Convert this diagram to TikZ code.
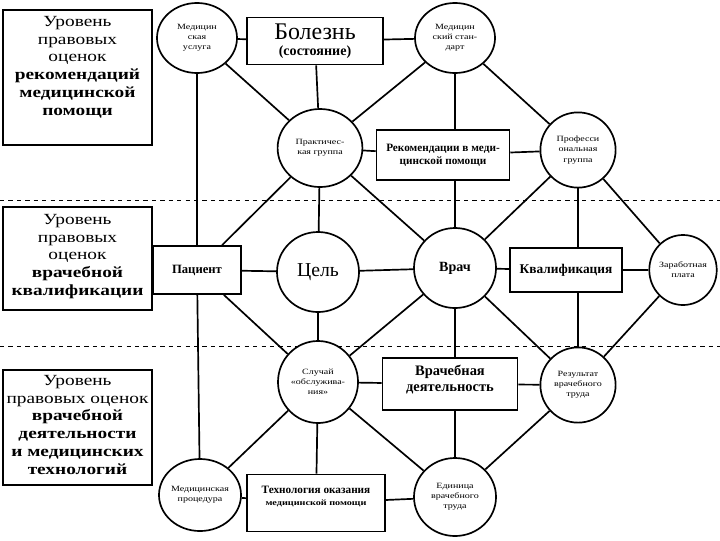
\documentclass[tikz,border=0pt]{standalone}
\usepackage{fontspec}
\setmainfont{Liberation Serif}
\newfontfamily\widefont{Liberation Serif}[FakeStretch=1.25]
\usetikzlibrary{shapes.geometric,positioning}

\begin{document}
\begin{tikzpicture}[x=0.025cm, y=-0.025cm,
  lvlframe/.style={draw, line width=1.2pt},
  lvltxt/.style={align=center, anchor=north, font=\widefont\fontsize{11}{12.6pt}\selectfont, inner sep=0pt},
  rbox/.style={draw, line width=1.2pt, fill=white, align=center, inner sep=2pt},
  oval/.style={draw, line width=1.2pt, fill=white, ellipse, align=center, inner sep=0pt,
    font=\widefont\fontsize{5.7}{7.2}\selectfont},
  link/.style={line width=1.2pt},
  sepline/.style={dashed, line width=0.5pt},
]
\useasboundingbox (0,0) rectangle (720,540);

% --- dashed level borders ---
\draw[sepline] (0,200) -- (720,200);
\draw[sepline] (0,346) -- (720,346);

% --- level boxes ---
\draw[lvlframe] (3,10) rectangle (152,145);
\node[lvltxt] (lvlA) at (77.5,16) {Уровень\\правовых\\оценок\\\textbf{рекомендаций}\\\textbf{медицинской}\\\textbf{помощи}};
\draw[lvlframe] (3,207) rectangle (152,310);
\node[lvltxt] (lvlB) at (77.5,214) {Уровень\\правовых\\оценок\\\textbf{врачебной}\\\textbf{квалификации}};
\draw[lvlframe] (3,370) rectangle (152,485);
\node[lvltxt] (lvlC) at (77.5,375) {Уровень\\правовых оценок\\\textbf{врачебной}\\\textbf{деятельности}\\\textbf{и медицинских}\\\textbf{технологий}};

% --- top row ---
\node[oval, minimum width=2cm, minimum height=1.75cm] (usl) at (197,38) {Медицин\\ская\\услуга};
\node[rbox, minimum width=3.4cm, minimum height=1.18cm] (bol) at (315,41)
  {{\fontsize{17}{15}\selectfont Болезнь}\\[-1pt]{\fontsize{10}{11}\selectfont\bfseries (состояние)}};
\node[oval, minimum width=2cm, minimum height=1.75cm] (std) at (455,38) {Медицин\\ский стан-\\дарт};

% --- second row ---
\node[oval, minimum width=2.12cm, minimum height=1.95cm] (prak) at (320,148) {Практичес-\\кая группа};
\node[rbox, minimum width=3.32cm, minimum height=1.25cm, font=\fontsize{8}{9.5}\selectfont\bfseries] (rec) at (443,155)
  {Рекомендации в меди-\\цинской помощи};
\node[oval, minimum width=1.88cm, minimum height=1.88cm] (prof) at (578,150) {Професси\\ональная\\группа};

% --- middle row ---
\node[rbox, minimum width=2.2cm, minimum height=1.2cm, font=\fontsize{9}{10}\selectfont\bfseries] (pac) at (197,270) {Пациент};
\node[oval, minimum width=2.05cm, minimum height=2cm, font=\fontsize{14}{14}\selectfont] (cel) at (318,272) {Цель};
\node[oval, minimum width=2.05cm, minimum height=2cm, font=\fontsize{10}{10}\selectfont\bfseries] (vrach) at (455,268) {Врач};
\node[rbox, minimum width=2.8cm, minimum height=1.1cm, font=\fontsize{9.5}{10}\selectfont\bfseries] (kval) at (566,270) {Квалификация};
\node[oval, minimum width=1.6cm, minimum height=1.75cm] (zar) at (683,270) {Заработная\\плата};

% --- fourth row ---
\node[oval, minimum width=2cm, minimum height=2.05cm] (sluch) at (318,382) {Случай\\«обслужива-\\ния»};
\node[rbox, minimum width=3.38cm, minimum height=1.3cm, font=\fontsize{10.3}{11}\selectfont\bfseries] (deyat) at (450,384)
  {Врачебная\\деятельность\\[-3pt]\mbox{}};
\node[oval, minimum width=1.88cm, minimum height=1.88cm] (rez) at (578,385) {Результат\\врачебного\\труда};

% --- bottom row ---
\node[oval, minimum width=2.05cm, minimum height=1.8cm] (proc) at (200,495) {Медицинская\\процедура};
\node[rbox, minimum width=3.45cm, minimum height=1.43cm, font=\fontsize{8}{8.5}\selectfont\bfseries] (tech) at (316,503)
  {Технология оказания\\{\widefont\fontsize{5.8}{7}\selectfont медицинской помощи}\\[2pt]\mbox{}};
\node[oval, minimum width=2.05cm, minimum height=1.95cm] (ed) at (455,497) {Единица\\врачебного\\труда};

% --- horizontal links ---
\draw[link] (usl) -- (bol);
\draw[link] (bol) -- (std);
\draw[link] (prak) -- (rec);
\draw[link] (rec) -- (prof);
\draw[link] (pac) -- (cel);
\draw[link] (cel) -- (vrach);
\draw[link] (vrach) -- (kval);
\draw[link] (kval) -- (zar);
\draw[link] (sluch) -- (deyat);
\draw[link] (deyat) -- (rez);
\draw[link] (proc) -- (tech);
\draw[link] (tech) -- (ed);

% --- vertical links ---
\draw[link] (usl) -- (pac);
\draw[link] (pac) -- (proc);
\draw[link] (bol) -- (prak);
\draw[link] (prak) -- (cel);
\draw[link] (cel) -- (sluch);
\draw[link] (sluch) -- (tech);
\draw[link] (std) -- (std |- rec.north);
\draw[link] (vrach |- rec.south) -- (vrach);
\draw[link] (vrach) -- (vrach |- deyat.north);
\draw[link] (ed |- deyat.south) -- (ed);
\draw[link] (prof) -- (prof |- kval.north);
\draw[link] (rez |- kval.south) -- (rez);

% --- diagonal links ---
\draw[link] (usl) -- (prak);
\draw[link] (std) -- (prak);
\draw[link] (std) -- (prof);
\draw[link] (prak) -- (pac);
\draw[link] (prak) -- (vrach);
\draw[link] (prof) -- (vrach);
\draw[link] (prof) -- (zar);
\draw[link] (pac) -- (sluch);
\draw[link] (vrach) -- (sluch);
\draw[link] (vrach) -- (rez);
\draw[link] (zar) -- (rez);
\draw[link] (sluch) -- (proc);
\draw[link] (sluch) -- (ed);
\draw[link] (rez) -- (ed);

\end{tikzpicture}
\end{document}
